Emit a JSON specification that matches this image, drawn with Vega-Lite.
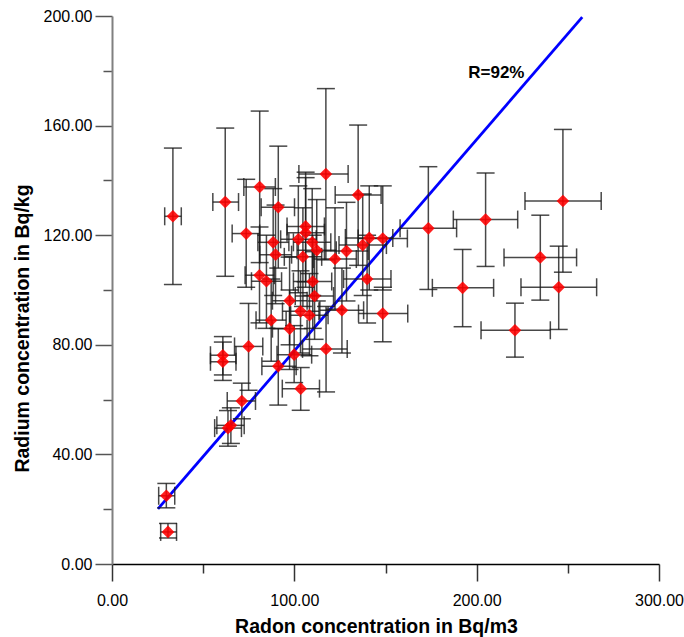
{
  "$schema": "https://vega.github.io/schema/vega-lite/v6.json",
  "autosize": "none",
  "width": 547,
  "height": 548,
  "padding": {"left": 112, "top": 16, "right": 25, "bottom": 73},
  "background": "white",
  "config": {"view": {"stroke": null}, "font": "Liberation Sans"},
  "datasets": {
    "pts": [
      {"x": 33.4, "y": 126.9, "xlo": 28.9, "xhi": 38.0, "ylo": 102, "yhi": 151.8},
      {"x": 62.1, "y": 132.1, "xlo": 55.3, "xhi": 69.4, "ylo": 105, "yhi": 159.1},
      {"x": 73.6, "y": 120.6, "xlo": 65.9, "xhi": 81.0, "ylo": 101, "yhi": 140.4},
      {"x": 81.0, "y": 137.6, "xlo": 72.3, "xhi": 89.6, "ylo": 110, "yhi": 165.3},
      {"x": 91.2, "y": 130.2, "xlo": 81.8, "xhi": 100.1, "ylo": 108, "yhi": 152.5},
      {"x": 117.3, "y": 142.3, "xlo": 102.5, "xhi": 129.5, "ylo": 111, "yhi": 173.5},
      {"x": 135.0, "y": 134.7, "xlo": 122.4, "xhi": 147.6, "ylo": 109, "yhi": 160.2},
      {"x": 173.5, "y": 122.5, "xlo": 158, "xhi": 189, "ylo": 100.2, "yhi": 145},
      {"x": 88.4, "y": 117.4, "xlo": 80, "xhi": 97, "ylo": 98, "yhi": 137},
      {"x": 89.7, "y": 112.9, "xlo": 81, "xhi": 98.5, "ylo": 95, "yhi": 131},
      {"x": 106.2, "y": 123.2, "xlo": 96, "xhi": 116.5, "ylo": 103, "yhi": 143},
      {"x": 106.2, "y": 120.9, "xlo": 96, "xhi": 116.5, "ylo": 101, "yhi": 141},
      {"x": 102.2, "y": 118.5, "xlo": 92.5, "xhi": 112, "ylo": 99, "yhi": 138},
      {"x": 109.8, "y": 117.4, "xlo": 99.5, "xhi": 120, "ylo": 98, "yhi": 137},
      {"x": 104.7, "y": 112.1, "xlo": 94.5, "xhi": 115, "ylo": 94, "yhi": 130},
      {"x": 112.3, "y": 114.5, "xlo": 101.5, "xhi": 123, "ylo": 96, "yhi": 133},
      {"x": 122.3, "y": 111.3, "xlo": 110.5, "xhi": 134, "ylo": 93, "yhi": 130},
      {"x": 128.6, "y": 114.2, "xlo": 116.5, "xhi": 140.5, "ylo": 96, "yhi": 132},
      {"x": 137.5, "y": 116.4, "xlo": 124.5, "xhi": 150.5, "ylo": 98, "yhi": 135},
      {"x": 141.1, "y": 119.0, "xlo": 128, "xhi": 154, "ylo": 100, "yhi": 138},
      {"x": 148.5, "y": 118.8, "xlo": 135, "xhi": 162, "ylo": 100, "yhi": 138},
      {"x": 80.9, "y": 105.4, "xlo": 73, "xhi": 89, "ylo": 88, "yhi": 123},
      {"x": 84.7, "y": 103.2, "xlo": 76.5, "xhi": 93, "ylo": 86, "yhi": 120},
      {"x": 139.9, "y": 104.0, "xlo": 127, "xhi": 153, "ylo": 88, "yhi": 120},
      {"x": 110.1, "y": 103.1, "xlo": 99.5, "xhi": 120.5, "ylo": 86, "yhi": 120},
      {"x": 111.1, "y": 97.8, "xlo": 100.5, "xhi": 121.5, "ylo": 82, "yhi": 114},
      {"x": 97.4, "y": 96.1, "xlo": 88, "xhi": 107, "ylo": 80, "yhi": 112},
      {"x": 126.1, "y": 92.6, "xlo": 114, "xhi": 138, "ylo": 77, "yhi": 108},
      {"x": 103.4, "y": 92.2, "xlo": 93.5, "xhi": 113.5, "ylo": 77, "yhi": 107},
      {"x": 108.3, "y": 90.8, "xlo": 98, "xhi": 118.5, "ylo": 76, "yhi": 106},
      {"x": 148.5, "y": 91.4, "xlo": 135.2, "xhi": 162.2, "ylo": 81.1, "yhi": 101},
      {"x": 87.3, "y": 89.0, "xlo": 79, "xhi": 95.5, "ylo": 74, "yhi": 104},
      {"x": 97.4, "y": 85.9, "xlo": 88, "xhi": 107, "ylo": 71, "yhi": 100},
      {"x": 74.9, "y": 79.4, "xlo": 67.2, "xhi": 82.7, "ylo": 63.4, "yhi": 95.1},
      {"x": 60.8, "y": 76.2, "xlo": 54, "xhi": 68, "ylo": 69, "yhi": 83},
      {"x": 60.8, "y": 73.8, "xlo": 54, "xhi": 68, "ylo": 67, "yhi": 81},
      {"x": 117.4, "y": 78.5, "xlo": 104.5, "xhi": 129, "ylo": 62.8, "yhi": 94},
      {"x": 99.9, "y": 76.4, "xlo": 90.5, "xhi": 109.5, "ylo": 66.2, "yhi": 87},
      {"x": 91.2, "y": 72.2, "xlo": 82.2, "xhi": 101, "ylo": 58, "yhi": 86},
      {"x": 103.5, "y": 64.0, "xlo": 93.4, "xhi": 113.8, "ylo": 56.1, "yhi": 71.7},
      {"x": 71.2, "y": 59.5, "xlo": 63.2, "xhi": 78.7, "ylo": 53, "yhi": 66},
      {"x": 63.6, "y": 49.6, "xlo": 56.3, "xhi": 71, "ylo": 43, "yhi": 56},
      {"x": 65.2, "y": 50.6, "xlo": 57.5, "xhi": 72.5, "ylo": 44, "yhi": 57},
      {"x": 29.8, "y": 24.9, "xlo": 25.6, "xhi": 34.4, "ylo": 20.5, "yhi": 29.4},
      {"x": 30.7, "y": 11.7, "xlo": 26.7, "xhi": 35.4, "ylo": 9.5, "yhi": 14.8},
      {"x": 204.9, "y": 125.7, "xlo": 187.2, "xhi": 222.5, "ylo": 108.6, "yhi": 142.7},
      {"x": 247.3, "y": 132.5, "xlo": 226.5, "xhi": 268.3, "ylo": 106.5, "yhi": 158.6},
      {"x": 234.9, "y": 111.9, "xlo": 215, "xhi": 254.8, "ylo": 96.3, "yhi": 127.3},
      {"x": 192.3, "y": 100.8, "xlo": 175.7, "xhi": 209.3, "ylo": 86.6, "yhi": 114.8},
      {"x": 245.0, "y": 101.0, "xlo": 224.3, "xhi": 265.8, "ylo": 85.6, "yhi": 116},
      {"x": 221.0, "y": 85.3, "xlo": 202.4, "xhi": 240.4, "ylo": 75.5, "yhi": 95.2}
    ],
    "fit": [
      {"x": 25.2, "y": 20.1},
      {"x": 257.9, "y": 199.6}
    ],
    "note": [
      {"x": 210.8, "y": 179.3, "label": "R=92%"}
    ]
  },
  "layer": [
    {
      "data": {"name": "fit"},
      "mark": {"type": "line", "color": "#0000ff", "strokeWidth": 2.8},
      "encoding": {
        "x": {
          "field": "x", "type": "quantitative",
          "title": "Radon concentration in Bq/m3",
          "scale": {"domain": [0, 300], "nice": false},
          "axis": {
            "values": [0, 50, 100, 150, 200, 250, 300],
            "labelExpr": "datum.value % 100 === 0 ? format(datum.value, '.2f') : ''",
            "grid": false,
            "domainColor": "#000000", "domainWidth": 1.5,
            "tickColor": "#333333", "tickWidth": 1.5,
            "tickSize": {"condition": {"test": "datum.value % 100 === 0", "value": 17}, "value": 9},
            "labelFont": "Liberation Sans", "labelFontSize": 16, "labelColor": "#000000",
            "labelPadding": 11, "labelFlush": false, "labelOverlap": false,
            "titleFont": "Liberation Sans", "titleFontSize": 19.5, "titleFontWeight": "bold", "titleColor": "#000000",
            "titleX": 264, "titleY": 62, "titleBaseline": "middle", "titleAlign": "center"
          }
        },
        "y": {
          "field": "y", "type": "quantitative",
          "title": "Radium concentration in Bq/kg",
          "scale": {"domain": [0, 200], "nice": false},
          "axis": {
            "values": [0, 20, 40, 60, 80, 100, 120, 140, 160, 180, 200],
            "labelExpr": "datum.value % 40 === 0 ? format(datum.value, '.2f') : ''",
            "grid": false,
            "domainColor": "#808080", "domainWidth": 2,
            "tickColor": "#555555", "tickWidth": 1.5,
            "tickSize": {"condition": {"test": "datum.value % 40 === 0", "value": 17}, "value": 9},
            "labelFont": "Liberation Sans", "labelFontSize": 16, "labelColor": "#000000",
            "labelPadding": 3, "labelFlush": false, "labelOverlap": false,
            "titleFont": "Liberation Sans", "titleFontSize": 19.5, "titleFontWeight": "bold", "titleColor": "#000000",
            "titleX": -90, "titleY": 312, "titleBaseline": "middle", "titleAlign": "center", "titleAngle": -90
          }
        }
      }
    },
    {
      "data": {"name": "pts"},
      "mark": {"type": "errorbar", "color": "#1a1a1a", "opacity": 0.8, "ticks": {"size": 18, "thickness": 1.5}, "rule": {"strokeWidth": 1.5}},
      "encoding": {
        "x": {"field": "x", "type": "quantitative", "title": "Radon concentration in Bq/m3"},
        "y": {"field": "ylo", "type": "quantitative", "title": "Radium concentration in Bq/kg"},
        "y2": {"field": "yhi"}
      }
    },
    {
      "data": {"name": "pts"},
      "mark": {"type": "errorbar", "color": "#1a1a1a", "opacity": 0.8, "ticks": {"size": 18, "thickness": 1.5}, "rule": {"strokeWidth": 1.5}},
      "encoding": {
        "y": {"field": "y", "type": "quantitative", "title": "Radium concentration in Bq/kg"},
        "x": {"field": "xlo", "type": "quantitative", "title": "Radon concentration in Bq/m3"},
        "x2": {"field": "xhi"}
      }
    },
    {
      "data": {"name": "pts"},
      "mark": {"type": "point", "shape": "diamond", "filled": true, "color": "#ff0000", "opacity": 0.88, "size": 160},
      "encoding": {
        "x": {"field": "x", "type": "quantitative", "title": "Radon concentration in Bq/m3"},
        "y": {"field": "y", "type": "quantitative", "title": "Radium concentration in Bq/kg"}
      }
    },
    {
      "data": {"name": "note"},
      "mark": {"type": "text", "font": "Liberation Sans", "fontSize": 17, "fontWeight": "bold", "color": "#000000", "align": "center", "baseline": "middle"},
      "encoding": {
        "x": {"field": "x", "type": "quantitative", "title": "Radon concentration in Bq/m3"},
        "y": {"field": "y", "type": "quantitative", "title": "Radium concentration in Bq/kg"},
        "text": {"field": "label"}
      }
    }
  ]
}
